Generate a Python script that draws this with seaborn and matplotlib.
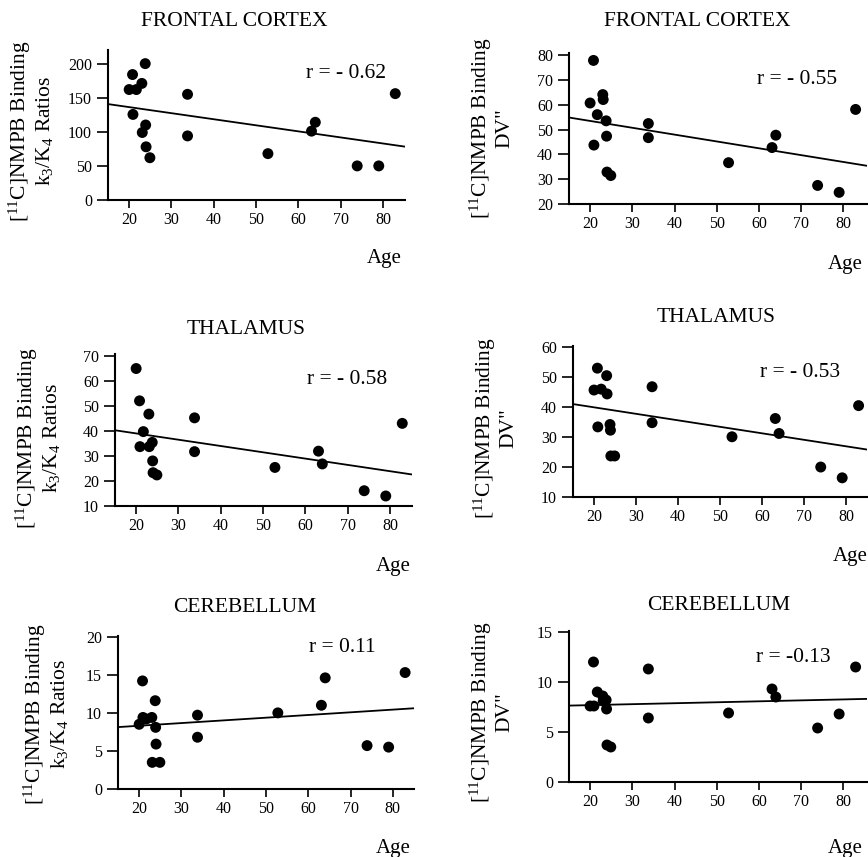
import matplotlib
matplotlib.use("Agg")
import matplotlib.pyplot as plt
import seaborn as sns
import pandas as pd

# ---------------- data ----------------
ages = [20, 20.8, 20.9, 21.7, 23, 23.1, 23.8, 23.9, 24, 24.9,
        33.8, 33.8, 52.8, 63.1, 64, 73.9, 79, 82.9]

frontal_k = [162, 184, 125.5, 162, 171, 99, 200, 110, 78, 62,
             155, 94, 68, 101, 114, 50, 50, 156]
frontal_dv = [60.8, 78, 43.8, 56.1, 64.2, 62.2, 53.6, 47.4, 32.9, 31.5,
              52.5, 46.8, 36.7, 42.8, 47.8, 27.5, 24.7, 58.2]
thalamus_k = [64.9, 52, 33.7, 39.7, 46.7, 33.7, 35.4, 28, 23.3, 22.4,
              45.2, 31.7, 25.4, 31.9, 26.8, 16.1, 14, 43]
thalamus_dv = [45.7, 53, 33.4, 46.0, 50.5, 44.4, 34.2, 32.3, 23.7, 23.7,
               46.8, 34.8, 30.1, 36.2, 31.2, 20, 16.4, 40.5]
cerebellum_k = [8.5, 14.2, 9.4, 9.2, 9.4, 3.5, 11.6, 8.1, 5.9, 3.5,
                9.7, 6.8, 10, 11, 14.6, 5.7, 5.5, 15.3]
cerebellum_dv = [7.6, 12.0, 7.6, 9.0, 8.6, 8.1, 8.2, 7.3, 3.7, 3.5,
                 11.3, 6.4, 6.9, 9.3, 8.5, 5.4, 6.8, 11.5]

titles = ["FRONTAL CORTEX", "FRONTAL CORTEX", "THALAMUS", "THALAMUS",
          "CEREBELLUM", "CEREBELLUM"]
r_labels = ["r = - 0.62", "r = - 0.55", "r = - 0.58", "r = - 0.53",
            "r = 0.11", "r = -0.13"]
ylabel_k = "[$^{11}$C]NMPB Binding\nk$_3$/K$_4$ Ratios"
ylabel_dv = "[$^{11}$C]NMPB Binding\nDV\""
x_ticks = [20, 30, 40, 50, 60, 70, 80]
y_ticks_list = [[0, 50, 100, 150, 200], [20, 30, 40, 50, 60, 70, 80],
                [10, 20, 30, 40, 50, 60, 70], [10, 20, 30, 40, 50, 60],
                [0, 5, 10, 15, 20], [0, 5, 10, 15]]

# ---------------- style ----------------
sns.set_style("ticks")
plt.rcParams["font.family"] = ["Liberation Serif", "DejaVu Serif"]
plt.rcParams["mathtext.fontset"] = "custom"
plt.rcParams["mathtext.rm"] = "Liberation Serif"
plt.rcParams["mathtext.it"] = "Liberation Serif:italic"
plt.rcParams["mathtext.bf"] = "Liberation Serif:bold"

W, H = 868, 857
fig = plt.figure(figsize=(W / 100, H / 100), dpi=100)
fig.patch.set_facecolor("white")

series = [frontal_k, frontal_dv, thalamus_k, thalamus_dv, cerebellum_k, cerebellum_dv]
ylabels = [ylabel_k, ylabel_dv] * 3
# axes boxes in pixels: left, top, right, bottom
boxes = [(108, 50, 405, 200), (569, 53, 867, 204),
         (115, 354, 412, 506), (573, 346, 867, 497),
         (118, 636, 414, 789), (569, 631, 867, 782)]
ylims = [(0, 220), (20, 81), (10, 70.7), (10, 60.4), (0, 20.1), (0, 15.1)]
xlims = [(15, 85.2), (15, 85.6), (15, 85.2), (15, 84.9), (15, 85.0), (15, 85.6)]
title_pos = [(234, 22), (697, 22), (246, 330), (716, 318), (245, 608), (719, 606)]
r_pos = [(346, 74), (797, 79), (347, 380), (800, 372), (342, 647), (793, 657)]
ylab_pos = [(31, 131), (491, 128), (38, 438), (495, 428), (46, 714), (491, 712)]
age_pos = [(384, 259), (845, 264), (393, 566), (850, 556), (393, 849), (845, 849)]

for i in range(6):
    l, t, r, b = boxes[i]
    ax = fig.add_axes([l / W, 1 - b / H, (r - l) / W, (b - t) / H])
    df = pd.DataFrame({"Age": ages, "Binding": series[i]})
    ax.set_xlim(*xlims[i])
    ax.set_ylim(*ylims[i])
    sns.regplot(data=df, x="Age", y="Binding", ax=ax, ci=None, truncate=False,
                color="black",
                scatter_kws={"s": 62, "color": "black", "edgecolor": "none",
                             "alpha": 1, "zorder": 3},
                line_kws={"color": "black", "lw": 1.3, "zorder": 2})
    ax.set_xlim(*xlims[i])
    ax.set_ylim(*ylims[i])
    ax.set_xticks(x_ticks)
    ax.set_yticks(y_ticks_list[i])
    ax.set_xlabel("")
    ax.set_ylabel("")
    for side in ["top", "right"]:
        ax.spines[side].set_visible(False)
    for side in ["left", "bottom"]:
        ax.spines[side].set_linewidth(1.5)
        ax.spines[side].set_color("black")
    ax.tick_params(axis="x", direction="out", length=5.5, width=1.2,
                   labelsize=11.5, pad=3, colors="black")
    ax.tick_params(axis="y", direction="out", length=8, width=1.2,
                   labelsize=11.5, pad=3.5, colors="black")
    ax.set_facecolor("white")

    tx, ty = title_pos[i]
    fig.text(tx / W, 1 - ty / H, titles[i], ha="center", va="center",
             fontsize=15.5, color="black")
    rx, ry = r_pos[i]
    fig.text(rx / W, 1 - ry / H, r_labels[i], ha="center", va="center",
             fontsize=15.5, color="black")
    yx, yy = ylab_pos[i]
    fig.text(yx / W, 1 - yy / H, ylabels[i], ha="center", va="center",
             rotation=90, fontsize=15.5, multialignment="center",
             linespacing=1.1, color="black")
    axx, axy = age_pos[i]
    fig.text(axx / W, 1 - axy / H, "Age", ha="center", va="center",
             fontsize=15, color="black")

fig.savefig("out.png", dpi=100, facecolor="white")
